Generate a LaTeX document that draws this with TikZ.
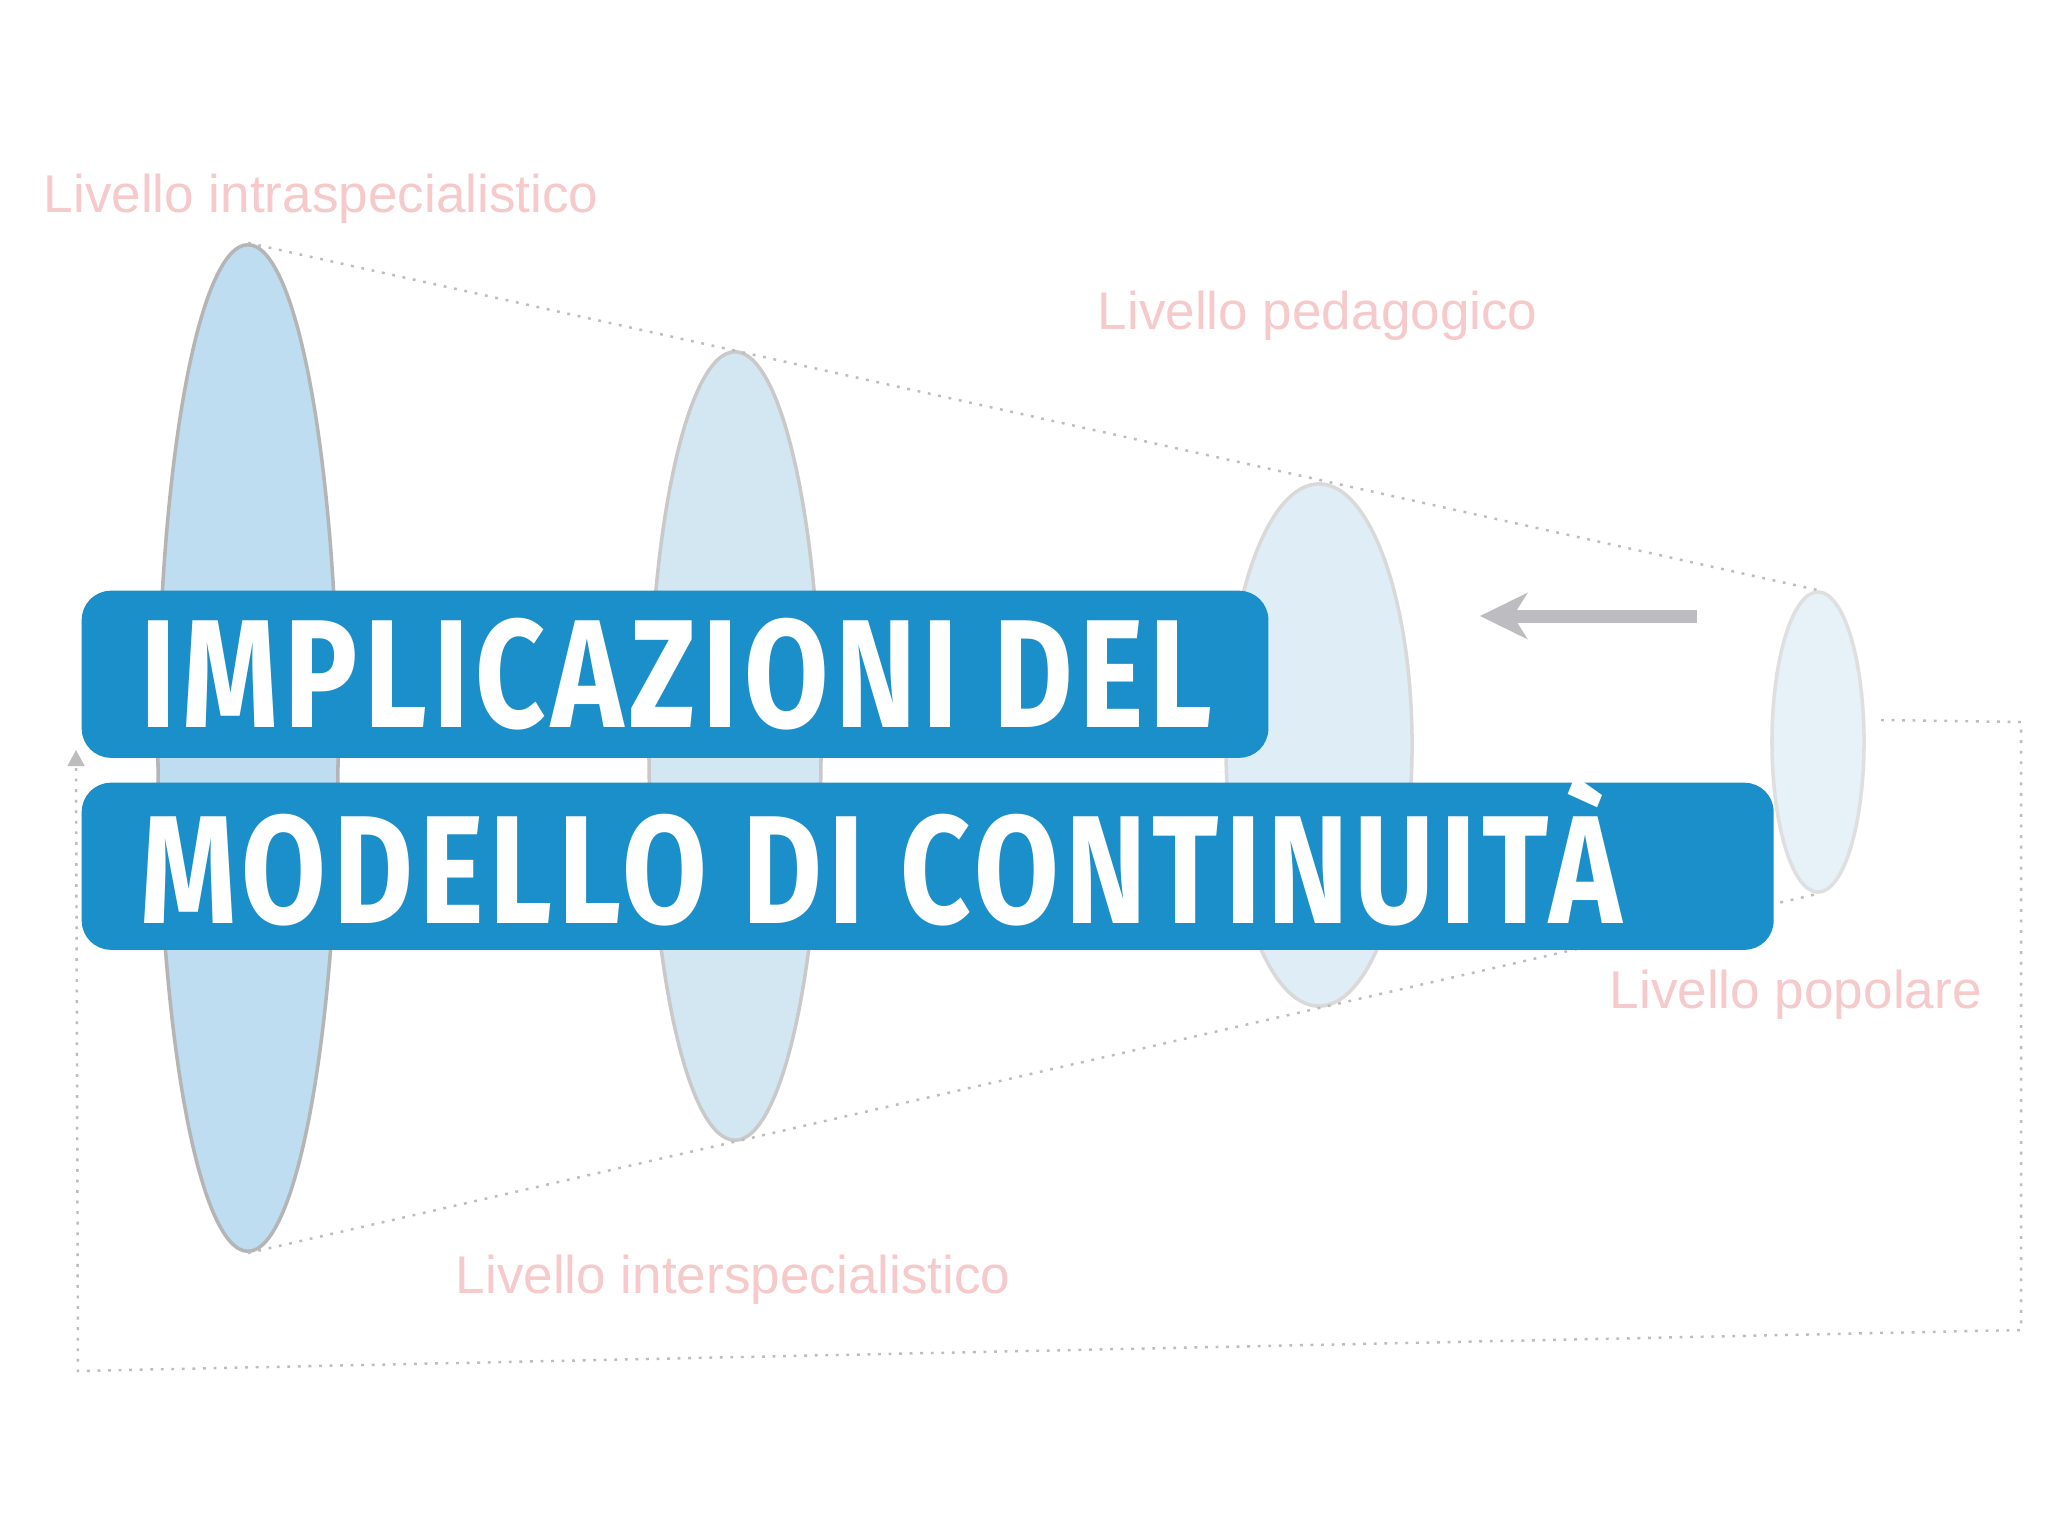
\documentclass[tikz,border=0pt]{standalone}
\usepackage{fontspec}
\setmainfont{Liberation Sans}
\newfontfamily\titlefont{Fira Sans}[LetterSpace=5]
\usetikzlibrary{arrows.meta,shapes.geometric}
\definecolor{boxblue}{HTML}{1B8FC9}
\definecolor{labelpink}{HTML}{F6C9CA}
\definecolor{fillA}{HTML}{BEDDF0}
\definecolor{fillB}{HTML}{D3E7F3}
\definecolor{fillC}{HTML}{DFEDF6}
\definecolor{fillD}{HTML}{E6F1F8}
\definecolor{dotgray}{HTML}{BDBDBD}
\definecolor{arrowgray}{HTML}{BDBDC1}
\tikzset{
  lens/.style={ellipse, inner sep=0pt, line width=1pt},
  dotline/.style={draw=dotgray, line width=0.7pt, dash pattern=on 0.8pt off 2.2pt},
  levellabel/.style={text=labelpink, font=\fontsize{15.1pt}{18pt}\selectfont, anchor=base west, inner sep=0pt},
  bluebox/.style={fill=boxblue, rounded corners=8.3pt, anchor=north west, inner sep=0pt, minimum height=1.67cm},
  titletext/.style={text=white, anchor=base west, inner sep=0pt, font=\titlefont\bfseries\fontsize{43.8pt}{44pt}\selectfont}
}
\begin{document}
\begin{tikzpicture}[x=0.01cm,y=-0.01cm]
\useasboundingbox[fill=white] (0,0) rectangle (2048,1536);
% ellipses
\node[lens, draw=gray!58, fill=fillA, minimum width=1.80cm, minimum height=10.06cm] (e1) at (248,748) {};
\node[lens, draw=gray!42, fill=fillB, minimum width=1.72cm, minimum height=7.88cm] (e2) at (735,746) {};
\node[lens, draw=gray!30, fill=fillC, minimum width=1.86cm, minimum height=5.22cm] (e3) at (1319,745) {};
\node[lens, draw=gray!25, fill=fillD, minimum width=0.92cm, minimum height=3.00cm] (e4) at (1818,742) {};
% cone outline
\draw[dotline] (e1.north) -- (e4.north);
\draw[dotline] (e1.south) -- (e4.south);
% feedback loop
\coordinate (c1) at (1881,720);
\coordinate (c2) at (2021,722);
\coordinate (c3) at (2021,1330);
\coordinate (c4) at (78,1371);
\coordinate (c5) at (76,750);
\draw[dotline, -{Triangle[length=4.6pt, width=4.8pt, fill=dotgray]}] (c1) -- (c2) -- (c3) -- (c4) -- (c5);
% gray arrow
\coordinate (a1) at (1697,616);
\coordinate (a2) at (1480,616);
\draw[arrowgray, line width=3.7pt, -{Stealth[length=13.4pt, width=13pt, inset=4pt]}] (a1) -- (a2);
% labels
\node[levellabel] (l1) at (43,212) {Livello intraspecialistico};
\node[levellabel] (l2) at (1097,329) {Livello pedagogico};
\node[levellabel] (l3) at (1609,1008) {Livello popolare};
\node[levellabel] (l4) at (455,1293) {Livello interspecialistico};
% title boxes
\node[bluebox, minimum width=11.86cm] (b1) at (81,590) {};
\node[bluebox, minimum width=16.91cm] (b2) at (81,782) {};
\node[titletext] (t1) at (140,727) {\resizebox{10.71cm}{\height}{IMPLICAZIONI DEL}};
\node[titletext] (t2) at (140,923) {\resizebox{14.80cm}{\height}{MODELLO DI CONTINUITÀ}};
\end{tikzpicture}
\end{document}
